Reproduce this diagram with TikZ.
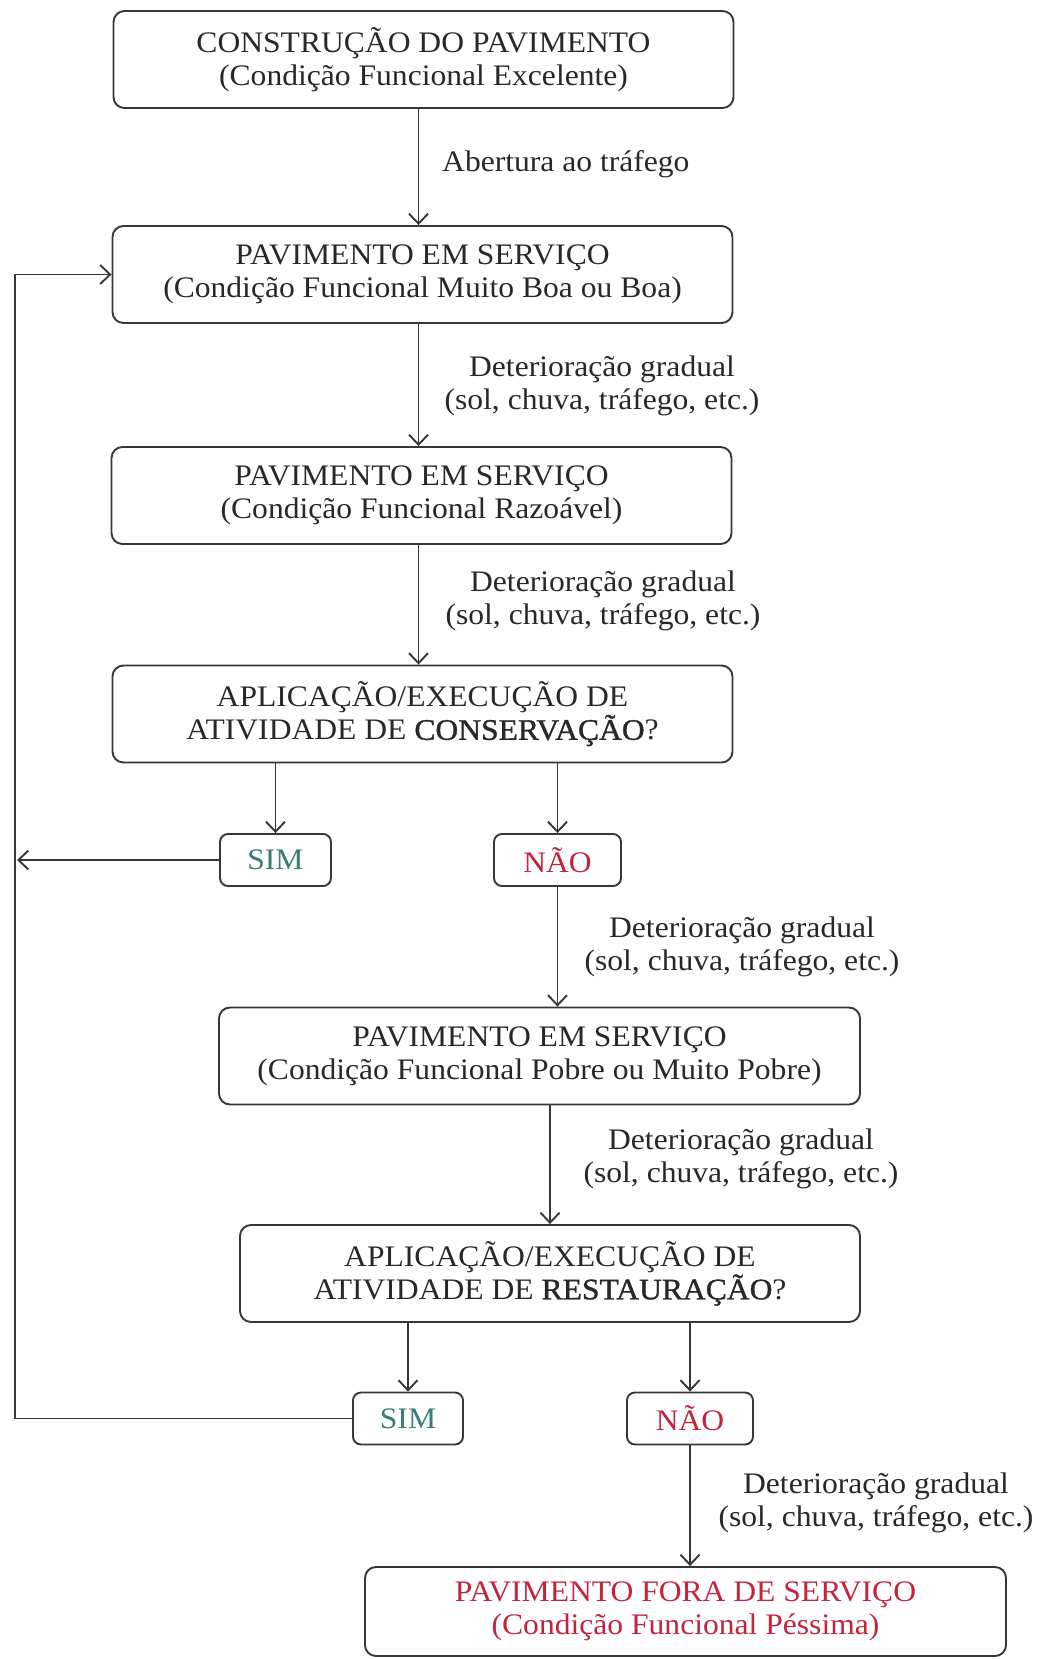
\documentclass[tikz,border=0pt]{standalone}
\usepackage{fontspec}
\setmainfont[FakeStretch=1.06]{Liberation Serif}
\newfontfamily\heavier[FakeStretch=1.06,FakeBold=1.2]{Liberation Serif}
\usetikzlibrary{arrows.meta}
\definecolor{ink}{RGB}{40,40,40}
\definecolor{linegray}{RGB}{55,55,55}
\definecolor{simteal}{RGB}{55,125,115}
\definecolor{naored}{RGB}{195,35,60}
\tikzset{
  x=1pt, y=-1pt,
  every node/.style={text=ink, font=\fontsize{29.8}{33}\selectfont},
  box/.style={draw=linegray, line width=1.9pt, rounded corners=11pt,
    align=center, inner sep=0pt, minimum width=620pt, minimum height=97pt},
  answer/.style={draw=linegray, line width=1.9pt, rounded corners=8pt,
    align=center, inner sep=0pt, minimum height=52pt},
  note/.style={align=center, inner sep=0pt},
  arr/.style={draw=linegray, line width=1.9pt,
    -{Straight Barb[length=10pt,width=19pt,line width=1.9pt]}},
  link/.style={draw=linegray, line width=1.9pt}
}
\begin{document}
\begin{tikzpicture}
\useasboundingbox (0,0) rectangle (1038,1659);

% main stages
\node[box] (b1) at (423.5,59.5) {CONSTRUÇÃO DO PAVIMENTO\\(Condição Funcional Excelente)};
\node[box] (b2) at (422.5,274.5) {PAVIMENTO EM SERVIÇO\\(Condição Funcional Muito Boa ou Boa)};
\node[box] (b3) at (421.5,495.5) {PAVIMENTO EM SERVIÇO\\(Condição Funcional Razoável)};
\node[box] (b4) at (422.5,714) {APLICAÇÃO/EXECUÇÃO DE\\ATIVIDADE DE {\heavier CONSERVAÇÃO}?};
\node[answer, minimum width=111pt, text=simteal] (s1) at (275.5,860) {SIM};
\node[answer, minimum width=127pt, text=naored] (n1) at (557.5,860) {NÃO};
\node[box, minimum width=641pt] (b5) at (539.5,1056) {PAVIMENTO EM SERVIÇO\\(Condição Funcional Pobre ou Muito Pobre)};
\node[box] (b6) at (550,1273.5) {APLICAÇÃO/EXECUÇÃO DE\\ATIVIDADE DE {\heavier RESTAURAÇÃO}?};
\node[answer, minimum width=110pt, text=simteal] (s2) at (408,1418.5) {SIM};
\node[answer, minimum width=126pt, text=naored] (n2) at (690,1418.5) {NÃO};
\node[box, minimum width=641pt, minimum height=89pt, text=naored] (b7) at (685.5,1611.5)
  {PAVIMENTO FORA DE SERVIÇO\\(Condição Funcional Péssima)};

% transition labels
\node[note, anchor=west] (t1) at (442,164) {Abertura ao tráfego};
\node[note] (t2) at (602,386) {Deterioração gradual\\(sol, chuva, tráfego, etc.)};
\node[note] (t3) at (603,601) {Deterioração gradual\\(sol, chuva, tráfego, etc.)};
\node[note] (t4) at (742,947) {Deterioração gradual\\(sol, chuva, tráfego, etc.)};
\node[note] (t5) at (741,1159) {Deterioração gradual\\(sol, chuva, tráfego, etc.)};
\node[note] (t6) at (876,1503) {Deterioração gradual\\(sol, chuva, tráfego, etc.)};

% return line on the left
\coordinate (L) at (15,0);
\coordinate (L2) at (17,0);

% connectors
\draw[arr] ([xshift=-5pt]b1.south) -- ([xshift=-5pt]b1.south |- b2.north);
\draw[arr] ([xshift=-4pt]b2.south) -- ([xshift=-4pt]b2.south |- b3.north);
\draw[arr] ([xshift=-3pt]b3.south) -- ([xshift=-3pt]b3.south |- b4.north);
\draw[arr] (b4.south -| s1) -- (s1.north);
\draw[arr] (b4.south -| n1) -- (n1.north);
\draw[arr] (s1.west) -- (s1.west -| L2);
\draw[arr] (n1.south) -- (n1.south |- b5.north);
\draw[arr] (b5.south -| b6) -- (b6.north);
\draw[arr] (b6.south -| s2) -- (s2.north);
\draw[arr] (b6.south -| n2) -- (n2.north);
\draw[arr] (n2.south) -- (n2.south |- b7.north);
\draw[arr] (s2.west) -- (s2.west -| L) |- (b2.west);
\end{tikzpicture}
\end{document}
